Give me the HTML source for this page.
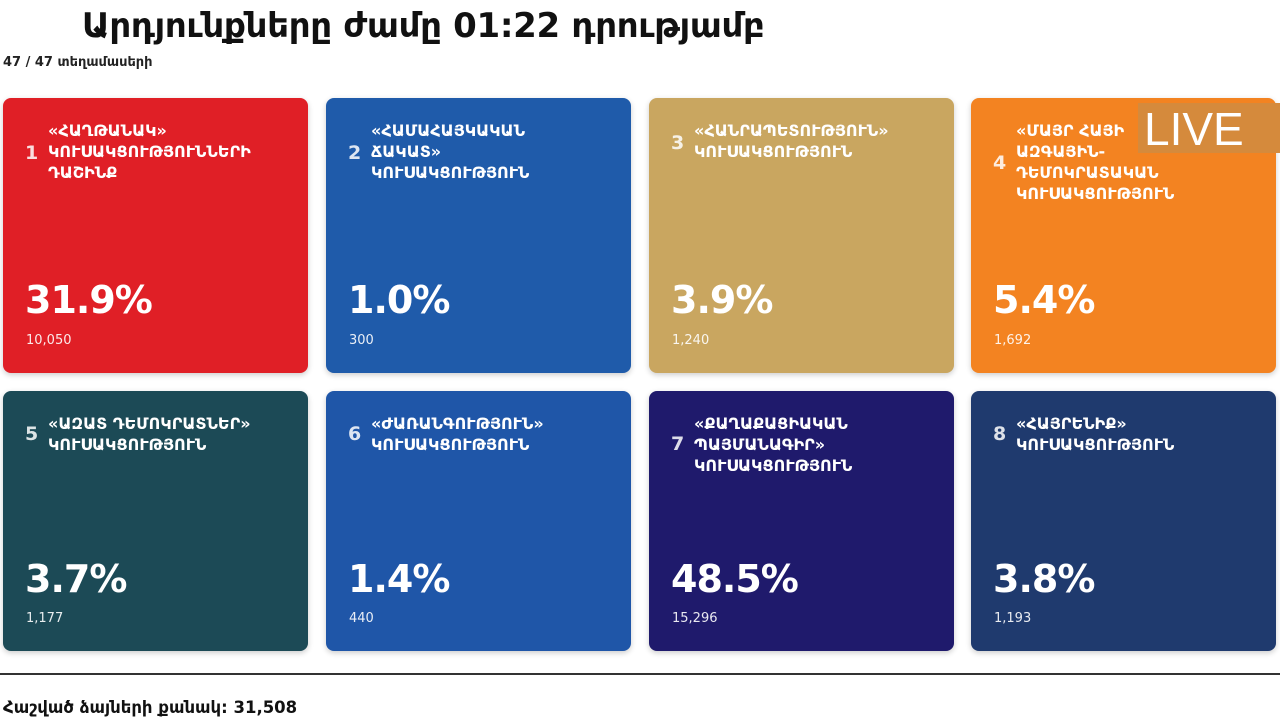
<!DOCTYPE html>
<html><head><meta charset="utf-8"><style>
body{margin:0;width:1280px;height:720px;background:#fff;position:relative;overflow:hidden;font-family:"DejaVu Sans","Liberation Sans",sans-serif;}
.t{position:absolute;left:82px;top:6px;font-size:34px;font-weight:bold;color:#111;letter-spacing:-0.3px}
.s{position:absolute;left:3px;top:55px;font-size:13px;font-weight:bold;color:#222}
.c{position:absolute;width:305px;border-radius:8px;color:#fff;box-shadow:0 2px 6px rgba(0,0,0,.2)}
.n{position:absolute;left:22px;font-size:19px;font-weight:bold;opacity:.85}
.nm{position:absolute;left:45px;top:22px;font-size:16px;font-weight:bold;line-height:21px;width:255px;white-space:nowrap}
.p{position:absolute;left:22px;font-size:38px;font-weight:bold;letter-spacing:-1px}
.v{position:absolute;left:23px;font-size:13px;opacity:.9}
.r1{top:98px;height:275px}.r1 .p{top:180px}.r1 .v{top:235px}
.r2{top:391px;height:260px}.r2 .p{top:166px}.r2 .v{top:220px}
.live{position:absolute;left:1138px;top:103px;width:142px;height:50px;background:#d58a3c;color:#fff;font-family:"Liberation Sans",sans-serif;font-size:46px;line-height:52px;padding-left:6px;box-sizing:border-box}
.hr{position:absolute;left:0;top:673px;width:1280px;height:2px;background:#333}
.b{position:absolute;left:3px;top:698px;font-size:16.5px;font-weight:bold;color:#111}
</style></head><body>
<div class="t">Արդյունքները ժամը 01:22 դրությամբ</div>
<div class="s">47 / 47 տեղամասերի</div>

<div class="c r1" style="left:3px;background:#e01f26"><div class="n" style="top:44px">1</div><div class="nm">«ՀԱՂԹԱՆԱԿ»<br>ԿՈՒՍԱԿՑՈՒԹՅՈՒՆՆԵՐԻ<br>ԴԱՇԻՆՔ</div><div class="p">31.9%</div><div class="v">10,050</div></div>
<div class="c r1" style="left:326px;background:#1f5baa"><div class="n" style="top:44px">2</div><div class="nm">«ՀԱՄԱՀԱՅԿԱԿԱՆ<br>ՃԱԿԱՏ»<br>ԿՈՒՍԱԿՑՈՒԹՅՈՒՆ</div><div class="p">1.0%</div><div class="v">300</div></div>
<div class="c r1" style="left:649px;background:#c9a660"><div class="n" style="top:34px">3</div><div class="nm">«ՀԱՆՐԱՊԵՏՈՒԹՅՈՒՆ»<br>ԿՈՒՍԱԿՑՈՒԹՅՈՒՆ</div><div class="p">3.9%</div><div class="v">1,240</div></div>
<div class="c r1" style="left:971px;background:#f38321"><div class="n" style="top:54px">4</div><div class="nm">«ՄԱՅՐ ՀԱՅԻ<br>ԱԶԳԱՅԻՆ-<br>ԴԵՄՈԿՐԱՏԱԿԱՆ<br>ԿՈՒՍԱԿՑՈՒԹՅՈՒՆ</div><div class="p">5.4%</div><div class="v">1,692</div></div>

<div class="c r2" style="left:3px;background:#1c4a56"><div class="n" style="top:32px">5</div><div class="nm">«ԱԶԱՏ ԴԵՄՈԿՐԱՏՆԵՐ»<br>ԿՈՒՍԱԿՑՈՒԹՅՈՒՆ</div><div class="p">3.7%</div><div class="v">1,177</div></div>
<div class="c r2" style="left:326px;background:#1f56a8"><div class="n" style="top:32px">6</div><div class="nm">«ԺԱՌԱՆԳՈՒԹՅՈՒՆ»<br>ԿՈՒՍԱԿՑՈՒԹՅՈՒՆ</div><div class="p">1.4%</div><div class="v">440</div></div>
<div class="c r2" style="left:649px;background:#1f1a6c"><div class="n" style="top:42px">7</div><div class="nm">«ՔԱՂԱՔԱՑԻԱԿԱՆ<br>ՊԱՅՄԱՆԱԳԻՐ»<br>ԿՈՒՍԱԿՑՈՒԹՅՈՒՆ</div><div class="p">48.5%</div><div class="v">15,296</div></div>
<div class="c r2" style="left:971px;background:#1f3a6e"><div class="n" style="top:32px">8</div><div class="nm">«ՀԱՅՐԵՆԻՔ»<br>ԿՈՒՍԱԿՑՈՒԹՅՈՒՆ</div><div class="p">3.8%</div><div class="v">1,193</div></div>

<div class="live">LIVE</div>
<div class="hr"></div>
<div class="b">Հաշված ձայների քանակ: 31,508</div>
</body></html>
